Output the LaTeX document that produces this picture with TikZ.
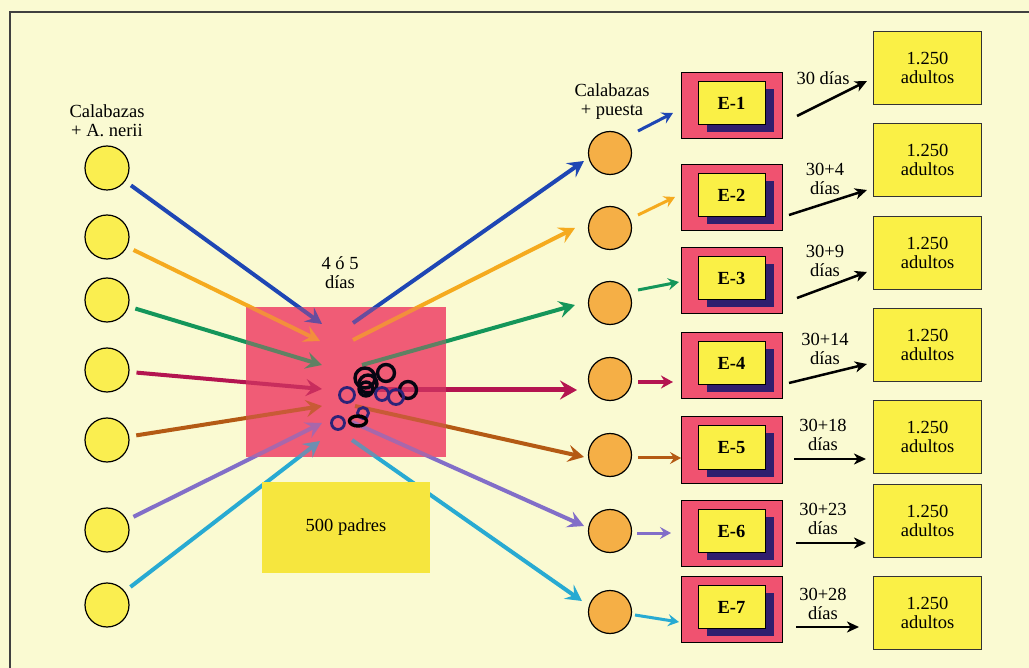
\documentclass[tikz,border=0pt]{standalone}
\usepackage{fontspec}
\setmainfont{Liberation Serif}
\usetikzlibrary{arrows.meta,shadows}
\definecolor{bg}{RGB}{250,250,210}
\definecolor{cyel}{RGB}{250,238,80}
\definecolor{cyel2}{RGB}{250,240,70}
\definecolor{cyel3}{RGB}{246,230,62}
\definecolor{corange}{RGB}{245,175,70}
\definecolor{cpink}{RGB}{240,92,118}
\definecolor{cpink2}{RGB}{240,82,112}
\definecolor{cnavy}{RGB}{48,30,110}
\definecolor{cring}{RGB}{45,35,120}
\definecolor{cblue}{RGB}{30,70,180}
\definecolor{cor}{RGB}{245,170,30}
\definecolor{cgreen}{RGB}{20,150,90}
\definecolor{ccrim}{RGB}{180,20,80}
\definecolor{cbrown}{RGB}{180,90,20}
\definecolor{clav}{RGB}{130,110,200}
\definecolor{ccyan}{RGB}{40,170,210}
\newcommand\diagfont{\fontsize{18.5}{19}\selectfont}
\begin{document}
\begin{tikzpicture}[x=1pt,y=-1pt,
  lc/.style={circle,draw=black,line width=1.2pt,fill=cyel,minimum size=44pt,inner sep=0pt},
  oc/.style={circle,draw=black,line width=1.2pt,fill=corange,minimum size=43pt,inner sep=0pt},
  txt/.style={font=\diagfont,align=center,inner sep=0pt},
  eout/.style={draw=black,line width=1pt,fill=cpink2,minimum width=101pt,minimum height=66pt,inner sep=0pt},
  ein/.style={draw=black,line width=1pt,fill=cyel2,minimum width=67pt,minimum height=43pt,inner sep=0pt,font=\diagfont\bfseries,drop shadow={shadow xshift=8.5pt,shadow yshift=-7.5pt,fill=cnavy,opacity=1}},
  adbox/.style={draw=black!80,line width=1pt,fill=cyel2,minimum width=108pt,minimum height=73pt,inner sep=0pt,font=\diagfont,align=center},
  bigarr/.style={line width=4pt,-{Stealth[length=16pt,width=17pt,inset=6pt]}},
  smallarr/.style={line width=3pt,-{Stealth[length=11pt,width=12pt,inset=4pt]}},
  blkarr/.style={line width=2.5pt,-{Stealth[length=12pt,width=11pt,inset=3.5pt]}},
  ring/.style={line width=3.4pt}]
\useasboundingbox (0,0) rectangle (1029,668);
\fill[bg] (0,0) rectangle (1029,668);
\draw[black!75,line width=1.5pt] (1029,12) -- (10,12) -- (10,668);

% central box
\node[fill=cpink,minimum width=200pt,minimum height=150pt,inner sep=0pt] (mix) at (346,382) {};
\node[txt] (dias) at (340,273) {4 ó 5\\días};

% left circles
\foreach \i/\y in {1/168,2/237,3/300,4/370,5/440,6/530,7/605}
  \node[lc] (l\i) at (107,\y) {};
\node[txt] (lab1) at (107,121) {Calabazas\\+ A. nerii};

% orange circles
\foreach \i/\y in {1/153,2/228,3/303,4/379,5/455,6/531,7/612}
  \node[oc] (o\i) at (610,\y) {};
\node[txt] (lab2) at (612,102) {Calabazas\\+ puesta};

% incoming arrows
\foreach \i/\c/\x/\y in {1/cblue/322/324,2/cor/320/341,3/cgreen/322/365,4/ccrim/322/389,5/cbrown/322/406,6/clav/322/423,7/ccyan/320/441}{
  \coordinate (t\i) at (\x,\y);
  \draw[bigarr,color=\c,shorten <=7pt] (l\i) -- (t\i);
}
% outgoing arrows
\foreach \i/\c/\sx/\sy/\hx/\hy in {1/cblue/353/323/584/161,2/cor/353/340/575/228,3/cgreen/362/365/575/305,5/cbrown/355/406/584/457,6/clav/352/422/584/526,7/ccyan/352/440/582/601}{
  \coordinate (s\i) at (\sx,\sy);
  \coordinate (h\i) at (\hx,\hy);
  \draw[bigarr,color=\c] (s\i) -- (h\i);
}
\coordinate (s4) at (365,390);
\coordinate (h4) at (577,390);
\draw[ccrim,line width=5pt,-{Stealth[length=17pt,width=19pt,inset=6pt]}] (s4) -- (h4);

% translucent overlay on box
\fill[cpink,opacity=0.35] (mix.north west) rectangle (mix.south east);

% rings
\draw[ring,black!85!cring] (365,378) circle[radius=10pt];
\draw[ring,black!85!cring] (368,384) circle[radius=9pt];
\draw[ring,black!85!cring] (366,389) circle[radius=7pt];
\draw[ring,black!85!cring] (386,373) circle[radius=8.5pt];
\draw[ring,black!85!cring] (408,390) circle[radius=8.5pt];
\draw[ring,line width=2.8pt,cring] (347,395) circle[radius=7.5pt];
\draw[ring,line width=2.8pt,cring] (382,394) circle[radius=6.5pt];
\draw[ring,line width=2.8pt,cring] (396,397) circle[radius=7.5pt];
\draw[ring,line width=2.8pt,cring] (363,413) circle[radius=5.5pt];
\draw[ring,line width=2.8pt,cring] (338,423) circle[radius=6.5pt];
\draw[ring,black] (358,421) ellipse[x radius=8.5pt,y radius=5pt];

% 500 padres
\node[fill=cyel3,minimum width=168pt,minimum height=91pt,inner sep=0pt,font=\diagfont] (padres) at (346,527.5) {500 padres};

% E boxes
\foreach \i/\y in {1/106,2/198,3/281,4/366,5/450,6/533.5,7/609.5}{
  \node[eout] (eo\i) at (731.5,\y) {};
  \node[ein] (e\i) at (731.5,\y-2.5) {E-\i};
}

% small arrows orange -> E
\foreach \i/\c/\sx/\sy/\hx/\hy in {1/cblue/638/131/673/113,2/cor/638/215/675/197,3/cgreen/638/290/679/282,5/cbrown/638/458/681/458,6/clav/637/533/671/533,7/ccyan/635/615/679/622}{
  \coordinate (p\i) at (\sx,\sy);
  \coordinate (q\i) at (\hx,\hy);
  \draw[smallarr,color=\c] (p\i) -- (q\i);
}
\coordinate (p4) at (638,382);
\coordinate (q4) at (673,382);
\draw[ccrim,line width=3.5pt,-{Stealth[length=12pt,width=13pt,inset=4pt]}] (p4) -- (q4);

% adult boxes
\foreach \i/\y in {1/68,2/160,3/253,4/345,5/437,6/521,7/613}
  \node[adbox] (a\i) at (927.5,\y) {1.250\\adultos};

% black arrows
\foreach \i/\sx/\sy/\hx/\hy in {1/797/116/867/81,2/789/215/867/190,3/797/298/867/272,4/789/383/867/364,5/794/459/866/459,6/796/543/866/543,7/796/627/859/627}{
  \coordinate (u\i) at (\sx,\sy);
  \coordinate (v\i) at (\hx,\hy);
  \draw[blkarr,black] (u\i) -- (v\i);
}
\node[txt] (d1) at (823,78) {30 días};
\node[txt] (d2) at (825,179) {30+4\\días};
\node[txt] (d3) at (825,261) {30+9\\días};
\node[txt] (d4) at (825,349) {30+14\\días};
\node[txt] (d5) at (823,435) {30+18\\días};
\node[txt] (d6) at (823,519) {30+23\\días};
\node[txt] (d7) at (823,604) {30+28\\días};
\end{tikzpicture}
\end{document}
